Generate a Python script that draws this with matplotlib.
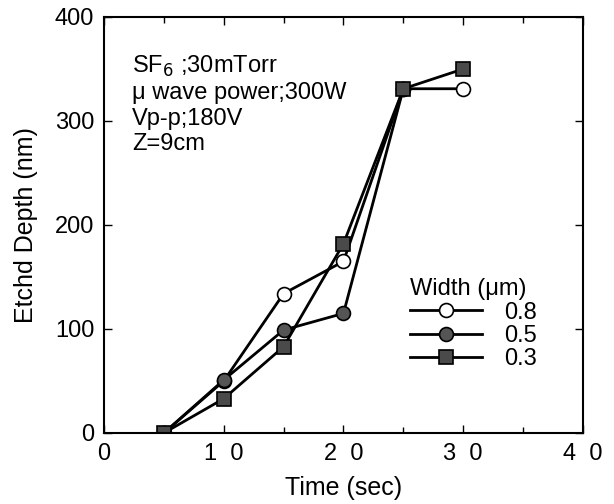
import matplotlib
matplotlib.use('Agg')
from matplotlib import pyplot as plt
from matplotlib.ticker import MultipleLocator

plt.rcParams['font.family'] = ['Liberation Sans', 'DejaVu Sans']

# data
time_08 = [5, 10, 15, 20, 25, 30]
depth_08 = [0, 50, 134, 165, 331, 331]
time_05 = [5, 10, 15, 20, 25]
depth_05 = [0, 51, 99, 115, 331]
time_03 = [5, 10, 15, 20, 25, 30]
depth_03 = [0, 33, 83, 182, 331, 350]

xticks = [0, 10, 20, 30, 40]
xticklabels = ['0', '1  0', '2  0', '3  0', '4  0']
yticks = [0, 100, 200, 300, 400]

fig = plt.figure(figsize=(6.14, 5.04), dpi=100)
ax = fig.add_axes([0.1694, 0.1409, 0.780, 0.8254])

ax.plot(time_08, depth_08, '-o', color='black', lw=2, ms=10,
        mfc='white', mec='black', mew=1.2, label='0.8')
ax.plot(time_05, depth_05, '-o', color='black', lw=2, ms=10,
        mfc='#555555', mec='black', mew=1.2, label='0.5')
ax.plot(time_03, depth_03, '-s', color='black', lw=2, ms=10,
        mfc='#4a4a4a', mec='black', mew=1.2, label='0.3')

ax.set_xlim(0, 40)
ax.set_ylim(0, 400)
ax.set_xticks(xticks)
ax.set_xticklabels(xticklabels)
ax.set_yticks(yticks)
ax.xaxis.set_minor_locator(MultipleLocator(5))
ax.tick_params(which='both', direction='in', top=True, right=True,
               labelsize=17, width=1)
ax.tick_params(axis='x', pad=7)
ax.tick_params(axis='y', pad=7)
ax.tick_params(which='major', length=6)
ax.tick_params(which='minor', length=4)
for s in ax.spines.values():
    s.set_linewidth(1.5)

ax.set_xlabel('Time (sec)', fontsize=18, labelpad=8)
ax.set_ylabel('Etchd Depth (nm)', fontsize=18, labelpad=12)

ax.text(0.058, 0.912,
        'SF$_6$ ;30mTorr\n\u03bc wave power;300W\nVp-p;180V\nZ=9cm',
        transform=ax.transAxes, fontsize=17, va='top', ha='left',
        linespacing=1.2)

leg = ax.legend(title='Width (\u03bcm)', frameon=False, fontsize=17,
                title_fontsize=17, loc='upper left',
                bbox_to_anchor=(0.62, 0.395), handlelength=3.05,
                handletextpad=0.9, labelspacing=0.06, borderaxespad=0)
leg._legend_box.align = 'left'

fig.savefig('out.png', dpi=100)
